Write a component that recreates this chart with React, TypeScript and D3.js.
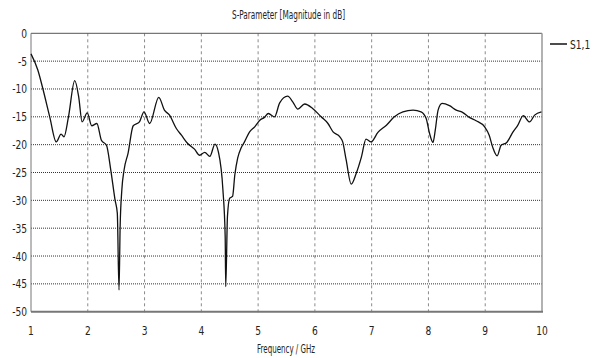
import * as d3 from "d3";

const width = 595;
const height = 358;
const margin = { top: 33.3, right: 53, bottom: 46.3, left: 31 };

const title = "S-Parameter [Magnitude in dB]";
const xLabel = "Frequency / GHz";
const seriesName = "S1,1";

const xTicks = [1, 2, 3, 4, 5, 6, 7, 8, 9, 10];
const yTicks = [0, -5, -10, -15, -20, -25, -30, -35, -40, -45, -50];

// frequency in GHz
const freq = [
  1.0, 1.12, 1.21, 1.33, 1.445, 1.53, 1.58, 1.66, 1.77, 1.84, 1.9, 1.99, 2.07, 2.16, 2.24,
  2.33, 2.4, 2.48, 2.52, 2.55, 2.57, 2.6, 2.64, 2.71, 2.8, 2.91, 2.99, 3.09, 3.25, 3.35,
  3.44, 3.56, 3.65, 3.76, 3.88, 3.97, 4.06, 4.15, 4.24, 4.3, 4.38, 4.42, 4.43, 4.46, 4.5,
  4.55, 4.59, 4.64, 4.7, 4.76, 4.85, 4.94, 5.03, 5.11, 5.18, 5.29, 5.38, 5.52, 5.61, 5.7,
  5.82, 5.96, 6.11, 6.23, 6.32, 6.44, 6.49, 6.55, 6.64, 6.73, 6.82, 6.9, 6.99, 7.11, 7.26,
  7.4, 7.55, 7.73, 7.87, 7.96, 8.02, 8.08, 8.12, 8.17, 8.24, 8.37, 8.49, 8.6, 8.72, 8.84,
  8.99, 9.07, 9.13, 9.21, 9.28, 9.38, 9.49, 9.57, 9.67, 9.78, 9.87, 9.99,
];

// |S11| in dB
const s11 = [
  -3.7, -6.6, -10, -15, -19.5, -18.1, -18.6, -15, -8.5, -11.4, -15.9, -14.3, -16.6, -16.2, -19.2,
  -20.1, -24.2, -29.9, -32.3, -46.1, -34.7, -28.1, -24.5, -21.5, -16.6, -15.9, -14.1, -16.2, -11.5, -13.8,
  -14.7, -17.1, -18.3, -19.8, -20.8, -21.9, -21.4, -22.1, -19.9, -21.3, -28.1, -36.5, -45.5, -32.9, -29.6,
  -29.3, -25.4, -22.4, -20.6, -19.5, -17.7, -16.8, -15.6, -15.1, -14.4, -15.0, -12.5, -11.3, -12.3, -13.6,
  -12.7, -13.5, -15.0, -16.2, -17.7, -18.6, -19.5, -22.7, -27.1, -25.1, -22.2, -19.0, -19.5, -17.8, -16.5,
  -15.0, -14.1, -13.8, -14.1, -15.3, -18.0, -19.6, -17.4, -13.8, -12.6, -13.0, -13.8, -14.2, -15.1, -15.7,
  -16.8, -18.3, -20.4, -22.0, -20.1, -19.6, -17.7, -16.6, -14.8, -15.9, -14.7, -14.1,
];

const labelFont = "'DejaVu Sans', sans-serif";
// the original labels use a narrow face, so squeeze them horizontally
const squeeze = 0.7;

export default function App() {
  const x = d3.scaleLinear().domain([1, 10]).range([margin.left, width - margin.right]);
  const y = d3.scaleLinear().domain([-50, 0]).range([height - margin.bottom, margin.top]);

  const points = freq.map((f, i) => [f, s11[i]] as [number, number]);
  const line = d3
    .line<[number, number]>()
    .x((d) => x(d[0]))
    .y((d) => y(d[1]))
    .curve(d3.curveMonotoneX);

  const x0 = x(1);
  const x1 = x(10);
  const y0 = y(0);
  const y1 = y(-50);

  return (
    <svg
      width={width}
      height={height}
      style={{ position: "absolute", left: 0, top: 0, background: "#fff" }}
    >
      {/* title */}
      <text
        x={288.5}
        y={18.5}
        textAnchor="middle"
        fontSize={11.5}
        fontFamily={labelFont}
        textLength={113}
        lengthAdjust="spacingAndGlyphs"
        fill="#222"
      >
        {title}
      </text>

      {/* vertical grid */}
      {xTicks.slice(1, -1).map((t) => (
        <line
          key={"vx" + t}
          x1={x(t)}
          x2={x(t)}
          y1={y0}
          y2={y1 + 2}
          stroke="#8a8a8a"
          strokeDasharray="3,3"
        />
      ))}
      {/* horizontal grid */}
      {yTicks.slice(1, -1).map((t) => (
        <line
          key={"hy" + t}
          x1={x0}
          x2={x1}
          y1={y(t)}
          y2={y(t)}
          stroke="#333"
          strokeDasharray="1,1"
        />
      ))}

      {/* frame */}
      <line x1={x0} x2={x1} y1={y0} y2={y0} stroke="#555" strokeWidth={1} />
      <line x1={x1} x2={x1} y1={y0} y2={y1} stroke="#999" strokeWidth={1.5} />
      <line x1={x0} x2={x0} y1={y0} y2={y1} stroke="#777" strokeWidth={1} />
      <line x1={x0} x2={x1 + 1} y1={y1} y2={y1} stroke="#777" strokeWidth={2} />

      {/* y tick labels */}
      {yTicks.map((t) => (
        <text
          key={"yl" + t}
          transform={`translate(${x0 - 4},${y(t) + 4.5}) scale(${squeeze},1)`}
          textAnchor="end"
          fontSize={13}
          fontFamily={labelFont}
          fill="#222"
        >
          {t}
        </text>
      ))}
      {/* x tick labels */}
      {xTicks.map((t) => (
        <text
          key={"xl" + t}
          transform={`translate(${x(t)},335) scale(${squeeze},1)`}
          textAnchor="middle"
          fontSize={13}
          fontFamily={labelFont}
          fill="#222"
        >
          {t}
        </text>
      ))}
      <text
        x={286}
        y={353}
        textAnchor="middle"
        fontSize={11.5}
        fontFamily={labelFont}
        textLength={58}
        lengthAdjust="spacingAndGlyphs"
        fill="#222"
      >
        {xLabel}
      </text>

      {/* curve */}
      <path d={line(points) || ""} fill="none" stroke="#111" strokeWidth={1.3} strokeLinejoin="round" />

      {/* legend */}
      <line x1={550} x2={567} y1={44} y2={44} stroke="#111" strokeWidth={1.5} />
      <text
        transform={`translate(570,48.5) scale(${squeeze},1)`}
        fontSize={13}
        fontFamily={labelFont}
        fill="#222"
      >
        {seriesName}
      </text>
    </svg>
  );
}
